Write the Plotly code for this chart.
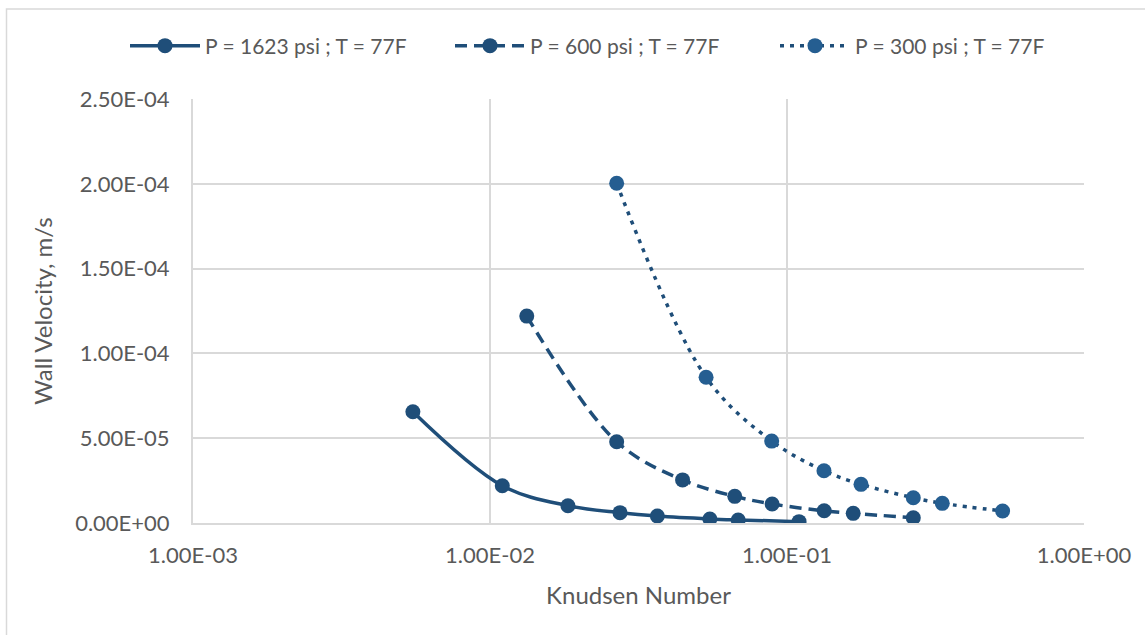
import plotly.graph_objects as go

# ---- data ----
kn_1623 = [0.0055, 0.0110, 0.0183, 0.0274, 0.0366, 0.0550, 0.0685, 0.1098]
v_1623 = [6.56e-5, 2.20e-5, 1.02e-5, 6.1e-6, 4.1e-6, 2.4e-6, 1.8e-6, 0.8e-6]

kn_600 = [0.0133, 0.0267, 0.0445, 0.0667, 0.0891, 0.1334, 0.1671, 0.2662]
v_600 = [1.220e-4, 4.79e-5, 2.54e-5, 1.57e-5, 1.12e-5, 7.2e-6, 5.7e-6, 3.1e-6]

kn_300 = [0.0267, 0.0534, 0.0888, 0.1332, 0.1775, 0.2662, 0.3333, 0.5320]
v_300 = [2.003e-4, 8.59e-5, 4.83e-5, 3.08e-5, 2.28e-5, 1.49e-5, 1.16e-5, 7.1e-6]

names = ["P = 1623 psi ; T = 77F", "P = 600 psi ; T = 77F", "P = 300 psi ; T = 77F"]

x_tickvals = [0.001, 0.01, 0.1, 1.0]
x_ticktext = ["1.00E-03", "1.00E-02", "1.00E-01", "1.00E+00"]
y_tickvals = [0, 5e-5, 1e-4, 1.5e-4, 2e-4, 2.5e-4]
y_ticktext = ["0.00E+00", "5.00E-05", "1.00E-04", "1.50E-04", "2.00E-04", "2.50E-04"]

# ---- styling ----
W, H = 1145, 635
L, T, R, B = 193, 99, 61, 112
FONT = "Lato"
TXT = "#595959"
GRID = "#D9D9D9"
DARK = "#1F4E79"
MID = "#255E91"

fig = go.Figure()
series = [
    (kn_1623, v_1623, names[0], "solid", DARK, DARK),
    (kn_600, v_600, names[1], "12px,7px", DARK, DARK),
    (kn_300, v_300, names[2], "4px,6px", DARK, MID),
]
for xs, ys, nm, dash, lc, mc in series:
    fig.add_trace(go.Scatter(
        x=xs, y=ys, name=nm, mode="lines+markers",
        line=dict(color=lc, width=3.5, dash=dash, shape="spline", smoothing=1.0),
        marker=dict(color=mc, size=15),
    ))

pw = W - L - R
ph = H - T - B
fig.add_shape(type="rect", xref="paper", yref="paper",
              x0=(6.5 - L) / pw, x1=(W + 10 - L) / pw,
              y0=-(H + 10 - (H - B)) / ph, y1=(H - B - 9) / ph,
              line=dict(color=GRID, width=1.5), fillcolor="rgba(0,0,0,0)", layer="below")

fig.update_layout(
    width=W, height=H,
    margin=dict(l=L, r=R, t=T, b=B, autoexpand=False),
    paper_bgcolor="white", plot_bgcolor="white",
    font=dict(family=FONT, size=22, color=TXT),
    showlegend=True,
    legend=dict(orientation="h", x=(125 - L) / pw, xanchor="left",
                y=(H - B - 46) / ph, yanchor="middle",
                itemwidth=70, entrywidth=240, entrywidthmode="pixels",
                font=dict(family=FONT, size=21, color=TXT),
                bgcolor="rgba(0,0,0,0)"),
    xaxis=dict(type="log", range=[-3, 0], tickvals=x_tickvals, ticktext=x_ticktext,
               showgrid=True, gridcolor=GRID, gridwidth=2, showline=True, linecolor=GRID,
               linewidth=2, mirror=False, zeroline=False, ticks="", ticklabelstandoff=12,
               tickfont=dict(size=22, color=TXT),
               title=dict(text="Knudsen Number", standoff=20, font=dict(size=24, color=TXT))),
    yaxis=dict(range=[0, 2.5e-4], tickvals=y_tickvals, ticktext=y_ticktext,
               showgrid=True, gridcolor=GRID, gridwidth=2, showline=True, linecolor=GRID,
               linewidth=2, zeroline=False, ticks="", ticklabelstandoff=17,
               tickfont=dict(size=22, color=TXT),
               title=dict(text="Wall Velocity, m/s", standoff=16, font=dict(size=24, color=TXT))),
)

fig.write_html("out.html")
